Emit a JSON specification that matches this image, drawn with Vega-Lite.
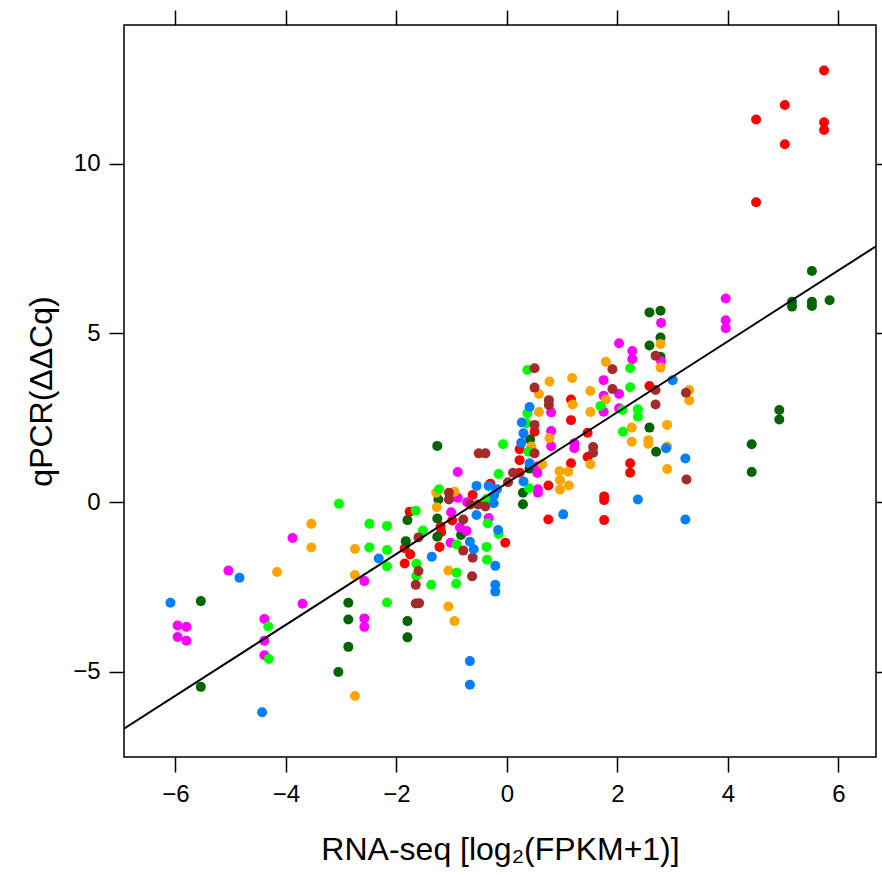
{
"$schema": "https://vega.github.io/schema/vega-lite/v6.json",
"width": 752, "height": 732,
"autosize": {"type": "none"},
"padding": {"left": 124, "top": 25, "right": 6, "bottom": 118},
"background": "white",
"config": {"view": {"stroke": "black", "strokeWidth": 1.5}, "font": "Liberation Sans"},
"datasets": {
"pts": [
{"x":5.74,"y":12.75,"g":"red"},{"x":5.03,"y":11.73,"g":"red"},{"x":4.51,"y":11.30,"g":"red"},{"x":5.74,"y":11.22,"g":"red"},{"x":5.74,"y":10.99,"g":"red"},{"x":5.03,"y":10.57,"g":"red"},{"x":4.51,"y":8.86,"g":"red"},{"x":2.58,"y":3.44,"g":"red"},{"x":2.23,"y":1.16,"g":"red"},{"x":2.23,"y":0.88,"g":"red"},{"x":1.76,"y":0.18,"g":"red"},{"x":1.76,"y":0.07,"g":"red"},{"x":1.76,"y":-0.52,"g":"red"},{"x":1.46,"y":2.06,"g":"red"},{"x":1.46,"y":1.34,"g":"red"},{"x":1.16,"y":1.16,"g":"red"},{"x":1.16,"y":3.04,"g":"red"},{"x":1.16,"y":2.43,"g":"red"},{"x":0.50,"y":2.09,"g":"red"},{"x":0.23,"y":1.57,"g":"red"},{"x":0.23,"y":1.25,"g":"red"},{"x":0.23,"y":0.88,"g":"red"},{"x":0.75,"y":0.50,"g":"red"},{"x":0.75,"y":-0.50,"g":"red"},{"x":-0.62,"y":0.22,"g":"red"},{"x":-0.30,"y":0.55,"g":"red"},{"x":-1.76,"y":-0.27,"g":"red"},{"x":-1.20,"y":-0.71,"g":"red"},{"x":-1.19,"y":-0.87,"g":"red"},{"x":-0.99,"y":-0.53,"g":"red"},{"x":-0.03,"y":-1.19,"g":"red"},{"x":-1.85,"y":-1.35,"g":"red"},{"x":-1.75,"y":-1.53,"g":"red"},{"x":-1.85,"y":-1.80,"g":"red"},{"x":-1.22,"y":-1.31,"g":"red"},
{"x":5.52,"y":6.83,"g":"dkgreen"},{"x":5.16,"y":5.92,"g":"dkgreen"},{"x":5.16,"y":5.78,"g":"dkgreen"},{"x":5.52,"y":5.92,"g":"dkgreen"},{"x":5.52,"y":5.80,"g":"dkgreen"},{"x":5.84,"y":5.97,"g":"dkgreen"},{"x":4.93,"y":2.73,"g":"dkgreen"},{"x":4.93,"y":2.45,"g":"dkgreen"},{"x":4.43,"y":1.72,"g":"dkgreen"},{"x":4.43,"y":0.90,"g":"dkgreen"},{"x":2.58,"y":5.61,"g":"dkgreen"},{"x":2.78,"y":5.66,"g":"dkgreen"},{"x":2.58,"y":4.63,"g":"dkgreen"},{"x":2.78,"y":4.87,"g":"dkgreen"},{"x":2.78,"y":4.30,"g":"dkgreen"},{"x":2.58,"y":2.21,"g":"dkgreen"},{"x":2.70,"y":1.50,"g":"dkgreen"},{"x":0.42,"y":1.86,"g":"dkgreen"},{"x":0.41,"y":1.00,"g":"dkgreen"},{"x":0.29,"y":0.29,"g":"dkgreen"},{"x":0.29,"y":-0.05,"g":"dkgreen"},{"x":-1.26,"y":1.67,"g":"dkgreen"},{"x":-1.24,"y":0.09,"g":"dkgreen"},{"x":-1.80,"y":-0.52,"g":"dkgreen"},{"x":-1.26,"y":-1.01,"g":"dkgreen"},{"x":-1.26,"y":-0.47,"g":"dkgreen"},{"x":-0.83,"y":-0.96,"g":"dkgreen"},{"x":-1.83,"y":-1.14,"g":"dkgreen"},{"x":-1.80,"y":-3.50,"g":"dkgreen"},{"x":-1.80,"y":-3.98,"g":"dkgreen"},{"x":-5.54,"y":-2.91,"g":"dkgreen"},{"x":-2.87,"y":-2.96,"g":"dkgreen"},{"x":-2.87,"y":-3.45,"g":"dkgreen"},{"x":-2.87,"y":-4.26,"g":"dkgreen"},{"x":-3.05,"y":-5.00,"g":"dkgreen"},{"x":-5.54,"y":-5.44,"g":"dkgreen"},
{"x":3.96,"y":6.02,"g":"magenta"},{"x":3.96,"y":5.38,"g":"magenta"},{"x":3.96,"y":5.14,"g":"magenta"},{"x":2.79,"y":5.30,"g":"magenta"},{"x":2.79,"y":4.17,"g":"magenta"},{"x":2.03,"y":4.70,"g":"magenta"},{"x":2.27,"y":4.47,"g":"magenta"},{"x":2.27,"y":4.23,"g":"magenta"},{"x":1.75,"y":3.61,"g":"magenta"},{"x":1.75,"y":3.15,"g":"magenta"},{"x":2.03,"y":3.20,"g":"magenta"},{"x":1.75,"y":2.68,"g":"magenta"},{"x":2.03,"y":2.78,"g":"magenta"},{"x":1.22,"y":1.75,"g":"magenta"},{"x":1.22,"y":1.60,"g":"magenta"},{"x":0.80,"y":2.66,"g":"magenta"},{"x":0.80,"y":2.11,"g":"magenta"},{"x":0.80,"y":1.66,"g":"magenta"},{"x":0.56,"y":1.07,"g":"magenta"},{"x":0.55,"y":0.87,"g":"magenta"},{"x":0.56,"y":0.39,"g":"magenta"},{"x":0.56,"y":0.29,"g":"magenta"},{"x":-0.89,"y":0.90,"g":"magenta"},{"x":-0.89,"y":0.14,"g":"magenta"},{"x":-0.72,"y":0.01,"g":"magenta"},{"x":-1.01,"y":-0.29,"g":"magenta"},{"x":-0.85,"y":-0.74,"g":"magenta"},{"x":-0.73,"y":-0.84,"g":"magenta"},{"x":-0.33,"y":-0.46,"g":"magenta"},{"x":-1.02,"y":-1.19,"g":"magenta"},{"x":-3.88,"y":-1.05,"g":"magenta"},{"x":-2.58,"y":-2.32,"g":"magenta"},{"x":-5.04,"y":-2.01,"g":"magenta"},{"x":-3.70,"y":-2.99,"g":"magenta"},{"x":-5.96,"y":-3.63,"g":"magenta"},{"x":-5.80,"y":-3.67,"g":"magenta"},{"x":-5.96,"y":-3.97,"g":"magenta"},{"x":-5.80,"y":-4.08,"g":"magenta"},{"x":-4.39,"y":-3.44,"g":"magenta"},{"x":-4.39,"y":-4.08,"g":"magenta"},{"x":-4.39,"y":-4.51,"g":"magenta"},{"x":-2.58,"y":-3.42,"g":"magenta"},{"x":-2.58,"y":-3.67,"g":"magenta"},
{"x":2.78,"y":4.68,"g":"orange"},{"x":2.78,"y":3.98,"g":"orange"},{"x":1.79,"y":4.15,"g":"orange"},{"x":1.79,"y":3.04,"g":"orange"},{"x":3.30,"y":3.32,"g":"orange"},{"x":3.30,"y":3.01,"g":"orange"},{"x":2.26,"y":2.21,"g":"orange"},{"x":2.26,"y":1.79,"g":"orange"},{"x":2.56,"y":1.84,"g":"orange"},{"x":2.56,"y":1.73,"g":"orange"},{"x":2.90,"y":2.29,"g":"orange"},{"x":2.90,"y":1.65,"g":"orange"},{"x":2.90,"y":0.99,"g":"orange"},{"x":1.51,"y":3.29,"g":"orange"},{"x":1.51,"y":2.67,"g":"orange"},{"x":1.51,"y":1.13,"g":"orange"},{"x":1.19,"y":2.89,"g":"orange"},{"x":1.18,"y":3.67,"g":"orange"},{"x":0.77,"y":3.57,"g":"orange"},{"x":0.58,"y":3.20,"g":"orange"},{"x":0.58,"y":2.67,"g":"orange"},{"x":0.77,"y":1.90,"g":"orange"},{"x":0.44,"y":1.65,"g":"orange"},{"x":0.64,"y":1.13,"g":"orange"},{"x":0.95,"y":0.92,"g":"orange"},{"x":1.11,"y":0.91,"g":"orange"},{"x":0.96,"y":0.66,"g":"orange"},{"x":0.96,"y":0.38,"g":"orange"},{"x":1.12,"y":0.50,"g":"orange"},{"x":-1.28,"y":0.29,"g":"orange"},{"x":-0.95,"y":0.32,"g":"orange"},{"x":-1.27,"y":-0.14,"g":"orange"},{"x":-1.06,"y":-2.01,"g":"orange"},{"x":-1.06,"y":-3.07,"g":"orange"},{"x":-0.95,"y":-3.50,"g":"orange"},{"x":-3.54,"y":-0.63,"g":"orange"},{"x":-3.54,"y":-1.33,"g":"orange"},{"x":-2.75,"y":-1.37,"g":"orange"},{"x":-2.75,"y":-2.14,"g":"orange"},{"x":-4.16,"y":-2.05,"g":"orange"},{"x":-2.75,"y":-5.71,"g":"orange"},
{"x":2.23,"y":3.96,"g":"green"},{"x":2.23,"y":3.40,"g":"green"},{"x":2.09,"y":2.73,"g":"green"},{"x":2.37,"y":2.75,"g":"green"},{"x":2.37,"y":2.53,"g":"green"},{"x":2.10,"y":2.09,"g":"green"},{"x":1.69,"y":2.85,"g":"green"},{"x":0.37,"y":3.91,"g":"green"},{"x":0.37,"y":2.63,"g":"green"},{"x":0.35,"y":2.34,"g":"green"},{"x":0.39,"y":1.50,"g":"green"},{"x":0.40,"y":0.42,"g":"green"},{"x":-0.07,"y":1.72,"g":"green"},{"x":-0.15,"y":0.84,"g":"green"},{"x":-1.23,"y":0.39,"g":"green"},{"x":-0.37,"y":0.10,"g":"green"},{"x":-1.65,"y":-0.24,"g":"green"},{"x":-0.35,"y":-0.61,"g":"green"},{"x":-0.15,"y":-0.93,"g":"green"},{"x":-1.52,"y":-0.83,"g":"green"},{"x":-2.17,"y":-1.40,"g":"green"},{"x":-2.49,"y":-1.33,"g":"green"},{"x":-2.17,"y":-0.69,"g":"green"},{"x":-2.49,"y":-0.63,"g":"green"},{"x":-2.17,"y":-1.89,"g":"green"},{"x":-1.64,"y":-1.81,"g":"green"},{"x":-1.64,"y":-2.17,"g":"green"},{"x":-1.37,"y":-2.43,"g":"green"},{"x":-0.91,"y":-1.24,"g":"green"},{"x":-0.37,"y":-1.31,"g":"green"},{"x":-0.36,"y":-1.69,"g":"green"},{"x":-0.91,"y":-2.07,"g":"green"},{"x":-0.92,"y":-2.40,"g":"green"},{"x":-2.17,"y":-2.95,"g":"green"},{"x":-3.04,"y":-0.04,"g":"green"},{"x":-4.32,"y":-3.66,"g":"green"},{"x":-4.31,"y":-4.62,"g":"green"},
{"x":2.69,"y":4.33,"g":"brown"},{"x":1.91,"y":3.93,"g":"brown"},{"x":1.91,"y":3.35,"g":"brown"},{"x":2.69,"y":3.32,"g":"brown"},{"x":2.69,"y":2.89,"g":"brown"},{"x":3.24,"y":3.24,"g":"brown"},{"x":3.25,"y":0.68,"g":"brown"},{"x":1.56,"y":1.64,"g":"brown"},{"x":1.56,"y":1.47,"g":"brown"},{"x":0.76,"y":3.02,"g":"brown"},{"x":0.76,"y":2.88,"g":"brown"},{"x":0.50,"y":3.96,"g":"brown"},{"x":0.50,"y":3.39,"g":"brown"},{"x":0.50,"y":2.29,"g":"brown"},{"x":0.50,"y":1.45,"g":"brown"},{"x":0.11,"y":0.88,"g":"brown"},{"x":0.02,"y":0.60,"g":"brown"},{"x":-0.51,"y":1.45,"g":"brown"},{"x":-0.39,"y":1.45,"g":"brown"},{"x":-1.05,"y":0.29,"g":"brown"},{"x":-1.05,"y":0.09,"g":"brown"},{"x":-0.66,"y":-0.06,"g":"brown"},{"x":-0.52,"y":-0.06,"g":"brown"},{"x":-0.39,"y":-0.12,"g":"brown"},{"x":-0.79,"y":-0.50,"g":"brown"},{"x":-1.60,"y":-1.03,"g":"brown"},{"x":-1.60,"y":-2.02,"g":"brown"},{"x":-1.65,"y":-2.43,"g":"brown"},{"x":-0.79,"y":-1.42,"g":"brown"},{"x":-0.62,"y":-1.63,"g":"brown"},{"x":-0.63,"y":-2.18,"g":"brown"},{"x":-1.65,"y":-2.98,"g":"brown"},{"x":-1.59,"y":-2.97,"g":"brown"},
{"x":3.00,"y":3.61,"g":"blue"},{"x":2.88,"y":1.60,"g":"blue"},{"x":3.23,"y":1.30,"g":"blue"},{"x":2.37,"y":0.09,"g":"blue"},{"x":3.23,"y":-0.50,"g":"blue"},{"x":0.41,"y":2.82,"g":"blue"},{"x":0.27,"y":2.36,"g":"blue"},{"x":0.30,"y":2.04,"g":"blue"},{"x":0.26,"y":1.76,"g":"blue"},{"x":0.41,"y":1.16,"g":"blue"},{"x":0.30,"y":0.62,"g":"blue"},{"x":1.02,"y":-0.35,"g":"blue"},{"x":-0.55,"y":0.49,"g":"blue"},{"x":-0.33,"y":0.49,"g":"blue"},{"x":-0.18,"y":0.39,"g":"blue"},{"x":-0.23,"y":0.22,"g":"blue"},{"x":-0.24,"y":-0.02,"g":"blue"},{"x":-0.55,"y":-0.37,"g":"blue"},{"x":-0.16,"y":-0.81,"g":"blue"},{"x":-2.32,"y":-1.65,"g":"blue"},{"x":-1.36,"y":-1.60,"g":"blue"},{"x":-0.67,"y":-1.16,"g":"blue"},{"x":-0.60,"y":-1.38,"g":"blue"},{"x":-0.21,"y":-1.87,"g":"blue"},{"x":-0.21,"y":-2.43,"g":"blue"},{"x":-0.21,"y":-2.63,"g":"blue"},{"x":-0.67,"y":-4.68,"g":"blue"},{"x":-0.67,"y":-5.38,"g":"blue"},{"x":-4.84,"y":-2.22,"g":"blue"},{"x":-6.09,"y":-2.96,"g":"blue"},{"x":-4.43,"y":-6.19,"g":"blue"}
],
"fit": [{"x": -6.93, "y": -6.675}, {"x": 6.68, "y": 7.561}]
},
"layer": [
{
"data": {"name": "pts"},
"mark": {"type": "circle", "size": 100, "opacity": 1},
"encoding": {
"x": {"field": "x", "type": "quantitative", "scale": {"domain": [-6.93, 6.68], "nice": false, "zero": false},
"axis": {"orient": "bottom", "values": [-6, -4, -2, 0, 2, 4, 6], "grid": false, "domain": false, "tickSize": 15, "tickWidth": 1.5, "tickColor": "black", "labelFontSize": 24, "labelColor": "black", "labelPadding": 10, "title": "RNA-seq [log₂(FPKM+1)]", "titleFontSize": 32, "titleFontWeight": "normal", "titleColor": "black", "titlePadding": 28}},
"y": {"field": "y", "type": "quantitative", "scale": {"domain": [-7.51, 14.09], "nice": false, "zero": false},
"axis": {"orient": "left", "values": [-5, 0, 5, 10], "grid": false, "domain": false, "tickSize": 15, "tickWidth": 1.5, "tickColor": "black", "labelFontSize": 24, "labelColor": "black", "labelPadding": 9, "title": "qPCR(ΔΔCq)", "titleFontSize": 32, "titleFontWeight": "normal", "titleColor": "black", "titlePadding": 14}},
"color": {"field": "g", "type": "nominal", "legend": null,
"scale": {"domain": ["red", "dkgreen", "magenta", "orange", "green", "brown", "blue"], "range": ["#ff0000", "#006400", "#ff00ff", "#ffa500", "#00ff00", "#a52a2a", "#0080ff"]}}
}
},
{
"data": {"name": "fit"},
"mark": {"type": "line", "color": "black", "strokeWidth": 2, "clip": true},
"encoding": {
"x": {"field": "x", "type": "quantitative", "scale": {"domain": [-6.93, 6.68], "nice": false, "zero": false},
"axis": {"orient": "top", "values": [-6, -4, -2, 0, 2, 4, 6], "grid": false, "domain": false, "labels": false, "tickSize": 15, "tickWidth": 1.5, "tickColor": "black", "title": null}},
"y": {"field": "y", "type": "quantitative", "scale": {"domain": [-7.51, 14.09], "nice": false, "zero": false},
"axis": {"orient": "right", "values": [-5, 0, 5, 10], "grid": false, "domain": false, "labels": false, "tickSize": 15, "tickWidth": 1.5, "tickColor": "black", "title": null}}
}
}
],
"resolve": {"scale": {"x": "independent", "y": "independent"}}
}
